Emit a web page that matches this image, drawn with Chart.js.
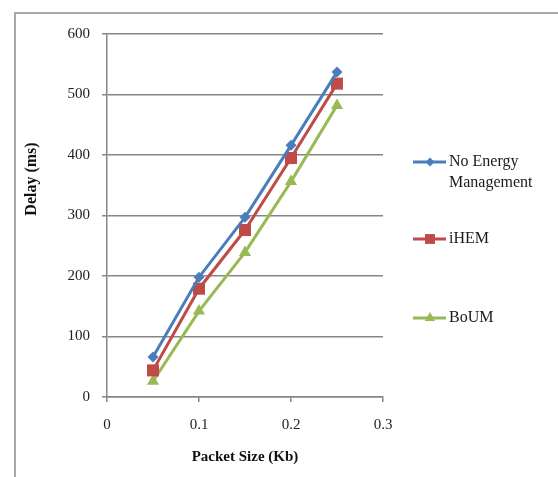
<!DOCTYPE html>
<html>
<head>
  <title>Delay vs Packet Size</title>
  <script src="https://cdn.jsdelivr.net/npm/chart.js"></script>
  <style>
    body { margin: 0; background: #fff; }
    .frame {
      position: absolute; left: 14px; top: 12px; width: 600px; height: 500px;
      border-top: 2px solid #a8a8a8; border-left: 2px solid #a8a8a8;
    }
    #myChart { position: absolute; left: 0; top: 0; }
  </style>
</head>
<body>
  <div class="frame"></div>
  <canvas id="myChart" width="558" height="477"></canvas>
  <script>
    const packetSizes = [0.05, 0.1, 0.15, 0.2, 0.25];
    const noEnergy = [66, 198, 297, 416, 537];
    const iHEM = [44, 179, 276, 395, 518];
    const boUM = [26, 142, 239, 356, 482];
    const seriesNames = [['No Energy', 'Management'], ['iHEM'], ['BoUM']];
    const xTicks = [0, 0.1, 0.2, 0.3];
    const yTicks = [0, 100, 200, 300, 400, 500, 600];

    const colors = ['#4a7ebb', '#be4b48', '#98b954'];
    const styles = ['rectRot', 'rect', 'triangle'];
    const radii = [5.5, 8.5, 7];
    const font = "'Liberation Serif', 'Times New Roman', serif";

    function pts(vals) {
      return vals.map((v, i) => ({ x: packetSizes[i], y: v }));
    }

    const datasets = [noEnergy, iHEM, boUM].map((vals, i) => ({
      label: seriesNames[i].join(' '),
      data: pts(vals),
      borderColor: colors[i],
      backgroundColor: colors[i],
      borderWidth: 3,
      pointStyle: styles[i],
      pointRadius: radii[i],
      pointBorderWidth: 0,
      tension: 0
    }));

    // legend and y title drawn by hand to match the layout
    const extras = {
      id: 'extras',
      afterDraw(chart) {
        const ctx = chart.ctx;
        ctx.save();
        ctx.fillStyle = '#111';
        ctx.font = 'bold 16px ' + font;
        ctx.textAlign = 'center';
        ctx.textBaseline = 'middle';
        ctx.translate(32, 179);
        ctx.rotate(-Math.PI / 2);
        ctx.fillText('Delay (ms)', 0, 0);
        ctx.restore();

        const rows = [162, 239, 318];
        const legR = [4.5, 7, 6];
        rows.forEach((y, i) => {
          ctx.save();
          ctx.strokeStyle = colors[i];
          ctx.lineWidth = 3;
          ctx.beginPath();
          ctx.moveTo(413, y);
          ctx.lineTo(446, y);
          ctx.stroke();
          ctx.fillStyle = colors[i];
          Chart.helpers.drawPoint(ctx, { pointStyle: styles[i], radius: legR[i], borderWidth: 0 }, 430, y);
          ctx.fillStyle = '#1a1a1a';
          ctx.font = '16px ' + font;
          ctx.textAlign = 'left';
          ctx.textBaseline = 'middle';
          seriesNames[i].forEach((t, k) => ctx.fillText(t, 449, y + k * 21));
          ctx.restore();
        });
      }
    };

    new Chart(document.getElementById('myChart').getContext('2d'), {
      type: 'line',
      data: { datasets: datasets },
      plugins: [extras],
      options: {
        responsive: false,
        animation: false,
        layout: { padding: { top: 34, right: 175, bottom: 0, left: 0 } },
        plugins: { legend: { display: false }, tooltip: { enabled: false } },
        scales: {
          x: {
            type: 'linear', min: 0, max: 0.3,
            afterFit(axis) { axis.height = 80; },
            afterBuildTicks(axis) { axis.ticks = xTicks.map(v => ({ value: v })); },
            ticks: {
              padding: 14, color: '#222', font: { family: font, size: 15 },
              callback: v => String(Math.round(v * 10) / 10)
            },
            grid: { drawOnChartArea: false, tickLength: 5, color: '#868686', lineWidth: 1.5 },
            border: { color: '#868686', width: 1.5 },
            title: {
              display: true, text: 'Packet Size (Kb)', color: '#111',
              font: { family: font, size: 15, weight: 'bold' }, padding: { top: 0, bottom: 11 }
            }
          },
          y: {
            min: 0, max: 600,
            afterFit(axis) { axis.width = 107; },
            afterBuildTicks(axis) { axis.ticks = yTicks.map(v => ({ value: v })); },
            ticks: { padding: 12, color: '#222', font: { family: font, size: 15 } },
            grid: { tickLength: 5, color: '#868686', lineWidth: 1.5 },
            border: { color: '#868686', width: 1.5 }
          }
        }
      }
    });
  </script>
</body>
</html>
